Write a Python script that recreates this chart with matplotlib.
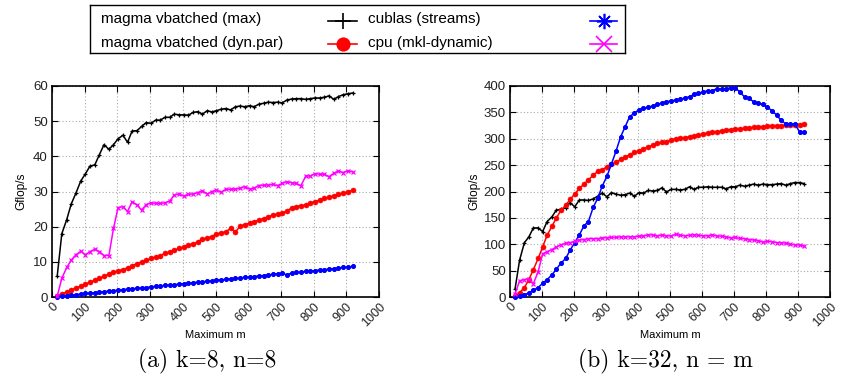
import numpy as np
import matplotlib
matplotlib.use('Agg')
import matplotlib.pyplot as plt
from matplotlib.lines import Line2D

plt.rcParams['font.family'] = ['Liberation Sans', 'DejaVu Sans']

# ==================== data ====================
# maximum m (x positions of the samples)
m_vals = [16, 30, 45, 59, 73, 88, 102, 116, 131, 145, 159, 174, 188, 202, 217, 231,
          245, 260, 274, 288, 303, 317, 331, 346, 360, 374, 389, 403, 417, 432, 446, 460,
          475, 489, 503, 518, 532, 546, 561, 575, 589, 604, 618, 632, 647, 661, 675, 690,
          704, 718, 733, 747, 761, 776, 790, 804, 819, 833, 847, 862, 876, 890, 905, 919]

# (a) k=8, n=8
a_max = [6, 18, 22, 26.5, 29.5, 33, 35, 37.2, 37.6, 40.5, 43.3, 42, 43.3, 45, 46, 44,
         47.2, 47.3, 48.5, 49.6, 49.4, 50.3, 50.3, 51.1, 51.1, 52, 51.8, 51.8, 51.7, 52.5, 52.7, 52,
         53, 52.6, 53, 53.4, 53.6, 53.2, 54.1, 54.3, 54.1, 54.4, 54.1, 54.8, 55.1, 55.4, 55.3, 55.4,
         55.2, 56, 56.3, 56.4, 56.4, 56.2, 56.4, 56.6, 56.6, 56.8, 57.2, 56.2, 57, 57.5, 57.8, 58]
a_dyn = [0.4, 0.9, 1.4, 2.0, 2.6, 3.1, 3.7, 4.2, 4.8, 5.3, 5.9, 6.5, 7.0, 7.4, 7.8, 8.3,
         8.9, 9.5, 10.0, 10.4, 11.0, 11.3, 11.8, 12.4, 12.9, 13.3, 13.8, 14.3, 14.8, 15.1, 15.7, 16.4,
         16.8, 17.2, 17.9, 18.2, 18.6, 19.5, 18.5, 20.1, 20.6, 21.0, 21.4, 21.9, 22.3, 22.8, 23.3, 23.6,
         23.8, 24.5, 25.3, 25.7, 26.0, 26.1, 26.8, 27.1, 27.6, 28.1, 28.3, 28.8, 29.2, 29.5, 29.9, 30.4]
a_cublas = [0.1, 0.3, 0.4, 0.5, 0.7, 0.8, 1.0, 1.1, 1.2, 1.4, 1.5, 1.7, 1.8, 1.9, 2.1, 2.2,
            2.3, 2.5, 2.6, 2.7, 2.9, 3.0, 3.1, 3.3, 3.4, 3.5, 3.7, 3.8, 3.9, 4.1, 4.2, 4.3,
            4.5, 4.6, 4.8, 4.9, 5.0, 5.2, 5.3, 5.4, 5.6, 5.7, 5.8, 6.0, 6.1, 6.3, 6.4, 6.6,
            6.7, 6.3, 6.8, 7.0, 7.1, 7.3, 7.4, 7.5, 7.7, 7.8, 7.9, 8.1, 8.2, 8.4, 8.5, 8.7]
a_cpu = [0.3, 5.3, 8.4, 10.5, 12, 13, 12, 12.9, 13.6, 12.9, 11.8, 11.8, 19.5, 25.4, 25.7, 24.3,
         27.1, 26.2, 24.7, 26.3, 26.8, 26.6, 26.6, 26.8, 27.3, 29, 29.3, 28.7, 29.2, 29.3, 29.7, 30.2,
         29.3, 30, 30.4, 29.8, 30.7, 30.6, 30.7, 30.9, 31.4, 30.7, 30.9, 31.7, 31.8, 31.8, 32, 31.7,
         32.3, 32.8, 32.5, 32.3, 31.6, 34.4, 34.4, 35.1, 34.9, 34.9, 34.2, 35.2, 35.8, 35.4, 35.9, 35.6]

# (b) k=32, n=m
b_max = [16, 70, 103, 114, 131, 131, 124, 143, 152, 165, 166, 169, 179, 171, 184, 184,
         183, 186, 191, 197, 190, 198, 195, 193, 194, 197, 191, 198, 197, 202, 201, 202,
         207, 199, 204, 204, 203, 204, 209, 204, 208, 208, 209, 208, 208, 208, 205, 209,
         209, 212, 210, 212, 214, 212, 214, 213, 213, 214, 215, 212, 215, 217, 217, 215]
b_dyn = [1, 8, 18, 33, 52, 73, 95, 117, 134, 150, 164, 174, 185, 195, 206, 214,
         222, 231, 238, 241, 247, 252, 255, 261, 265, 270, 274, 277, 281, 285, 288, 291,
         293, 294, 298, 300, 301, 302, 304, 305, 307, 309, 311, 312, 313, 315, 316, 317,
         318, 319, 320, 320, 322, 322, 323, 324, 324, 325, 325, 326, 326, 327, 327, 328]
b_cublas = [0.5, 2, 4, 8, 13, 18, 26, 33, 42, 53, 64, 73, 89, 103, 118, 135,
            143, 170, 187, 210, 229, 252, 276, 304, 323, 342, 349, 355, 358, 360, 362, 365,
            368, 370, 372, 373, 375, 377, 380, 384, 386, 389, 391, 391, 395, 394, 394, 397,
            396, 389, 379, 377, 370, 367, 365, 360, 353, 345, 335, 328, 328, 328, 313, 313]
b_cpu = [6, 31, 33, 35, 25, 48, 82, 86, 90, 95, 99, 102, 103, 105.5, 108, 109,
         110.5, 110.5, 110.5, 112, 112.5, 113, 113, 114, 114, 114, 114, 115.5, 115.5, 118, 117.5, 116,
         117.5, 116, 115.5, 119, 117, 116, 117, 118, 117, 116, 116, 118, 115.5, 115.5, 114, 112,
         113, 111, 110.5, 109, 108, 107, 104, 105.5, 105, 103, 103, 102, 100, 99, 98.5, 96.5]

x_ticks = [0, 100, 200, 300, 400, 500, 600, 700, 800, 900, 1000]
labels = ['magma vbatched (max)', 'magma vbatched (dyn.par)', 'cublas (streams)', 'cpu (mkl-dynamic)']

# ==================== styles ====================
STAR = (8, 2, 0)
styles = [
    dict(color='black', marker='+', ms=3.5, mew=0.9),
    dict(color='#ff0000', marker='o', ms=3.6, mew=0.4),
    dict(color='#0000ff', marker=STAR, ms=3.4, mew=0.9),
    dict(color='#ff00ff', marker='x', ms=3.0, mew=0.9),
]

fig = plt.figure(figsize=(8.43, 3.81), dpi=100)


def draw_panel(ax, series, ymax, ystep, ylab_x):
    for ys, st in zip(series, styles):
        ax.plot(m_vals, ys, lw=1.1, clip_on=False, zorder=3, **st)
    ax.set_xlim(0, 1000)
    ax.set_ylim(0, ymax)
    ax.set_xticks(x_ticks)
    ax.set_xticklabels([str(t) for t in x_ticks], rotation=45, ha='right', va='top',
                       rotation_mode='anchor', fontsize=9)
    ax.set_yticks(np.arange(0, ymax + 1, ystep))
    ax.tick_params(axis='y', labelsize=9.5)
    ax.tick_params(direction='in', length=4, width=0.8, top=True, right=True, pad=3,
                   labelcolor='#222222')
    ax.tick_params(axis='x', pad=3)
    ax.grid(True, color='#aaaaaa', linestyle=(0, (1, 2)), linewidth=0.8)
    ax.set_axisbelow(True)
    for sp in ax.spines.values():
        sp.set_linewidth(1.2)
    ax.set_ylabel('Gflop/s', fontsize=8.5)
    ax.set_xlabel('Maximum m', fontsize=8)
    ax.yaxis.set_label_coords(ylab_x, 0.5)
    ax.yaxis.label.set_va('center')
    ax.xaxis.set_label_coords(0.5, -0.18)
    ax.xaxis.label.set_va('center')


ax1 = fig.add_axes([52 / 843, 84 / 381, 327 / 843, 211 / 381])
draw_panel(ax1, [a_max, a_dyn, a_cublas, a_cpu], 60, 10, -0.095)

# right panel kept a few pixels in from the edge so the "1000" label fits
ax2 = fig.add_axes([510 / 843, 84 / 381, 320 / 843, 211 / 381])
draw_panel(ax2, [b_max, b_dyn, b_cublas, b_cpu], 400, 50, -0.112)

# captions
fig.text(207 / 843, 1 - 361 / 381, '(a) k=8, n=8', fontfamily='cmr10', fontsize=17,
         ha='center', va='center')
fig.text(665 / 843, 1 - 361 / 381, '(b) k=32, n = m', fontfamily='cmr10', fontsize=17,
         ha='center', va='center')

# ==================== legend box (gnuplot style: text then sample) ====================
leg = fig.add_axes([90 / 843, 1 - 53 / 381, 535 / 843, 48 / 381])
leg.set_xlim(90, 625)
leg.set_ylim(53, 5)
leg.set_xticks([])
leg.set_yticks([])
for sp in leg.spines.values():
    sp.set_linewidth(1.0)

rows = [19.5, 43]
text_x = [101, 368]
samp_x = [(328, 357), (590, 617)]
leg_ms = [11, 9, 11, 11]
for i, (lab, st) in enumerate(zip(labels, styles)):
    col, row = divmod(i, 2)
    y = rows[row]
    leg.text(text_x[col], y, lab, fontsize=11, ha='left', va='center')
    x0, x1 = samp_x[col]
    leg.add_line(Line2D([x0, x1], [y + 1, y + 1], color=st['color'], lw=1.2))
    leg.add_line(Line2D([(x0 + x1) / 2], [y + 1], color=st['color'], marker=st['marker'],
                        ms=leg_ms[i], mew=1.2, lw=0))

fig.savefig('out.png', dpi=100)
